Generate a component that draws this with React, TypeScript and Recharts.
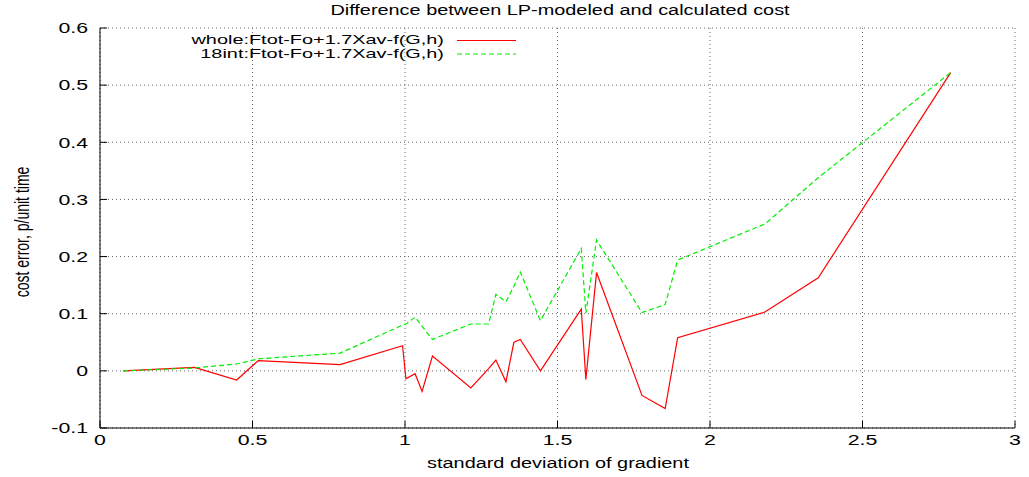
import React from "react";
import { LineChart, Line, XAxis, YAxis, CartesianGrid, Legend } from "recharts";

// standard deviation of gradient (shared x for both runs)
const sigmaGrad = [
  0.076, 0.31, 0.448, 0.519, 0.787, 0.992, 1.003, 1.033, 1.056, 1.09, 1.216,
  1.274, 1.298, 1.331, 1.357, 1.378, 1.444, 1.578, 1.593, 1.628, 1.777, 1.853,
  1.894, 2.18, 2.355, 2.789,
];
const wholeErr = [
  0, 0.006, -0.016, 0.018, 0.011, 0.044, -0.014, -0.005, -0.036, 0.026, -0.03,
  0.004, 0.019, -0.019, 0.05, 0.055, 0, 0.108, -0.015, 0.172, -0.043, -0.066,
  0.058, 0.103, 0.163, 0.522,
];
const int18Err = [
  0, 0.005, 0.012, 0.021, 0.031, 0.08, 0.082, 0.094, 0.078, 0.055, 0.082,
  0.082, 0.134, 0.121, 0.148, 0.173, 0.088, 0.214, 0.101, 0.229, 0.102, 0.116,
  0.194, 0.257, 0.338, 0.522,
];
const xTicks = [0, 0.5, 1, 1.5, 2, 2.5, 3];
const yTicks = [-0.1, 0, 0.1, 0.2, 0.3, 0.4, 0.5, 0.6];

const WHOLE_NAME = "whole:Ftot-Fo+1.7Xav-f(G,h)";
const INT18_NAME = "18int:Ftot-Fo+1.7Xav-f(G,h)";
const KEY_ORDER = [WHOLE_NAME, INT18_NAME];

const FONT = '"Liberation Sans", Arial, Helvetica, sans-serif';
const STRETCH = 1.42;

const rows = sigmaGrad.map((x, i) => ({
  x,
  whole: wholeErr[i],
  int18: int18Err[i],
}));

// gnuplot's text in this picture is wider than it is tall
function WideText({
  x,
  y,
  anchor = "middle",
  size = 14,
  stretch = STRETCH,
  vertical = false,
  children,
}: {
  x: number;
  y: number;
  anchor?: "start" | "middle" | "end";
  size?: number;
  stretch?: number;
  vertical?: boolean;
  children: React.ReactNode;
}) {
  const t = vertical
    ? `translate(${x},${y}) scale(${stretch},1) rotate(-90)`
    : `translate(${x},${y}) scale(${stretch},1)`;
  return (
    <text
      transform={t}
      textAnchor={anchor}
      dominantBaseline="central"
      fontFamily={FONT}
      fontSize={size}
      fill="#000"
    >
      {children}
    </text>
  );
}

function XTick(props: any) {
  return (
    <WideText x={props.x} y={440} size={15}>
      {String(props.payload.value)}
    </WideText>
  );
}

function YTick(props: any) {
  return (
    <WideText x={88} y={props.y} anchor="end" size={15}>
      {String(props.payload.value)}
    </WideText>
  );
}

function XLabelText() {
  return (
    <WideText x={558} y={463}>
      standard deviation of gradient
    </WideText>
  );
}

function YLabelText() {
  return (
    <WideText x={22} y={232} vertical>
      cost error, p/unit time
    </WideText>
  );
}

function KeyBox({ payload }: any) {
  const items = [...(payload ?? [])].sort(
    (a: any, b: any) => KEY_ORDER.indexOf(a.value) - KEY_ORDER.indexOf(b.value)
  );
  return (
    <svg width={380} height={36} style={{ display: "block" }}>
      {items.map((e: any, i: number) => (
        <g key={e.value}>
          <WideText x={294} y={10 + i * 14} anchor="end" size={13} stretch={1.53}>
            {e.value}
          </WideText>
          <line
            x1={307}
            x2={366}
            y1={10.5 + i * 13.5}
            y2={10.5 + i * 13.5}
            stroke={e.color}
            strokeWidth={1.2}
            strokeDasharray={e.payload?.strokeDasharray}
          />
        </g>
      ))}
    </svg>
  );
}

export default function App() {
  return (
    <div
      style={{
        position: "absolute",
        left: 0,
        top: 0,
        width: 1029,
        height: 477,
        background: "#fff",
      }}
    >
      <svg
        width={1029}
        height={24}
        style={{ position: "absolute", left: 0, top: 0, pointerEvents: "none" }}
      >
        <WideText x={560} y={10}>
          Difference between LP-modeled and calculated cost
        </WideText>
      </svg>
      <LineChart
        width={1029}
        height={477}
        data={rows}
        margin={{ top: 28, right: 14, bottom: 0, left: 0 }}
      >
        <CartesianGrid stroke="#666" strokeDasharray="1 3" strokeWidth={1} />
        <XAxis
          dataKey="x"
          type="number"
          domain={[0, 3]}
          ticks={xTicks}
          height={49}
          tick={<XTick />}
          tickSize={-7}
          stroke="#000"
          label={<XLabelText />}
        />
        <XAxis
          xAxisId="top"
          orientation="top"
          type="number"
          domain={[0, 3]}
          ticks={xTicks}
          height={0}
          tick={false}
          tickSize={-7}
          stroke="#000"
        />
        <YAxis
          type="number"
          domain={[-0.1, 0.6]}
          ticks={yTicks}
          width={100}
          tick={<YTick />}
          tickSize={-7}
          stroke="#000"
          label={<YLabelText />}
        />
        <YAxis
          yAxisId="right"
          orientation="right"
          type="number"
          domain={[-0.1, 0.6]}
          ticks={yTicks}
          width={0}
          tick={false}
          tickSize={-7}
          stroke="#000"
        />
        <Legend
          layout="horizontal"
          verticalAlign="middle"
          align="center"
          content={<KeyBox />}
          wrapperStyle={{ left: 150, top: 30, width: 380, height: 36 }}
        />
        <Line
          name={WHOLE_NAME}
          dataKey="whole"
          type="linear"
          stroke="#ff0000"
          strokeWidth={1.2}
          dot={false}
          isAnimationActive={false}
        />
        <Line
          name={INT18_NAME}
          dataKey="int18"
          type="linear"
          stroke="#00ee00"
          strokeWidth={1.2}
          strokeDasharray="5 3"
          dot={false}
          isAnimationActive={false}
        />
      </LineChart>
    </div>
  );
}
